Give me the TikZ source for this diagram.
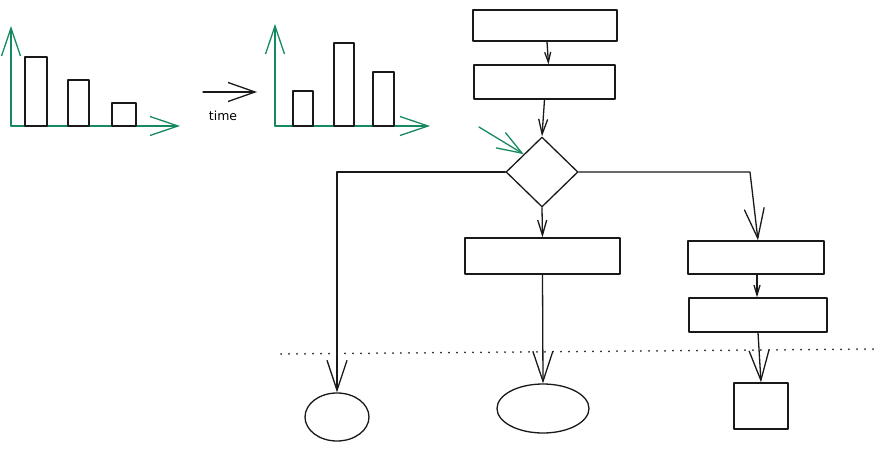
\documentclass[tikz,border=0pt]{standalone}
\usepackage{fontspec}
\newfontfamily\handfont{DejaVu Sans}
\usetikzlibrary{arrows.meta,shapes.geometric}
\definecolor{axgreen}{HTML}{168A5E}
\tikzset{
  ink/.style={line width=1.3pt,line join=round,line cap=round,black!90},
  box/.style={ink,draw,rectangle,inner sep=0pt},
  bigtip/.style={-{Straight Barb[length=30pt,width=20pt,line width=1.3pt]}},
  midtip/.style={-{Straight Barb[length=15pt,width=9pt,line width=1.3pt]}},
  smalltip/.style={-{Straight Barb[length=10pt,width=6pt,line width=1.3pt]}},
  axis/.style={line width=1.3pt,line cap=round,axgreen,-{Straight Barb[length=28pt,width=19pt,line width=1.3pt]}},
  bar/.style={ink,draw},
  dotline/.style={line width=2pt,line cap=round,dash pattern=on 0pt off 8pt,black!85},
}
\begin{document}
\begin{tikzpicture}[x=1pt,y=-1pt]
\useasboundingbox (0,0) rectangle (887,452);
% chart 1
\coordinate (o1) at (11,126);
\coordinate (y1) at (11,26);
\coordinate (x1) at (180,126);
\draw[axis] (o1) -- (y1);
\draw[axis] (o1) -- (x1);
\draw[bar] (25,57) rectangle (47,126);
\draw[bar] (68,80) rectangle (89,126);
\draw[bar] (112,103) rectangle (136,126);
% time arrow
\coordinate (t0) at (203,92);
\coordinate (t1) at (257,92);
\draw[ink,-{Straight Barb[length=27pt,width=19pt,line width=1.3pt]}] (t0) -- (t1);
\node[inner sep=0pt,font=\handfont\fontsize{12.5}{14}\selectfont] (time) at (223,116) {time};
% chart 2
\coordinate (o2) at (275,126);
\coordinate (y2) at (275,24);
\coordinate (x2) at (430,126);
\draw[axis] (o2) -- (y2);
\draw[axis] (o2) -- (x2);
\draw[bar] (293,91) rectangle (313,126);
\draw[bar] (334,43) rectangle (354,126);
\draw[bar] (373,72) rectangle (394,126);
% flowchart
\node[box,minimum width=144pt,minimum height=31pt] (A) at (545,25.5) {};
\node[box,minimum width=141pt,minimum height=34pt] (B) at (544.5,82) {};
\node[ink,draw,diamond,inner sep=0pt,minimum width=72pt,minimum height=70pt] (D) at (542,172) {};
\node[box,minimum width=155pt,minimum height=36pt] (C) at (542.5,256) {};
\node[box,minimum width=136pt,minimum height=33pt] (R1) at (756,257.5) {};
\node[box,minimum width=138pt,minimum height=34pt] (R2) at (758,315) {};
\node[ink,draw,ellipse,inner sep=0pt,minimum width=64pt,minimum height=48pt] (E1) at (337,417) {};
\node[ink,draw,ellipse,inner sep=0pt,minimum width=92pt,minimum height=49pt] (E2) at (543,408.5) {};
\node[box,minimum width=54pt,minimum height=46pt] (S) at (761,406) {};
% connectors
\draw[ink,smalltip] ([xshift=2pt]A.south) -- ([xshift=4pt]B.north);
\draw[ink,midtip] (B.south) -- (D.north);
\draw[ink,midtip] (D.south) -- (C.north);
\draw[ink,bigtip] (D.west) -| (E1.north);
\coordinate (rc) at (750,172);
\draw[ink,bigtip] (D.east) -- (rc) -- ([xshift=2pt]R1.north);
\draw[ink,smalltip] ([xshift=1pt]R1.south) -- ([xshift=-1pt]R2.north);
\draw[ink,bigtip] (C.south) -- (E2.north);
\draw[ink,bigtip] (R2.south) -- (S.north);
\coordinate (g0) at (479,127);
\draw[axis,-{Straight Barb[length=25pt,width=18pt,line width=1.3pt]}] (g0) -- (D.north west);
% dotted line
\coordinate (l0) at (281,354);
\coordinate (l1) at (880,349);
\draw[dotline] (l0) -- (l1);
\end{tikzpicture}
\end{document}
